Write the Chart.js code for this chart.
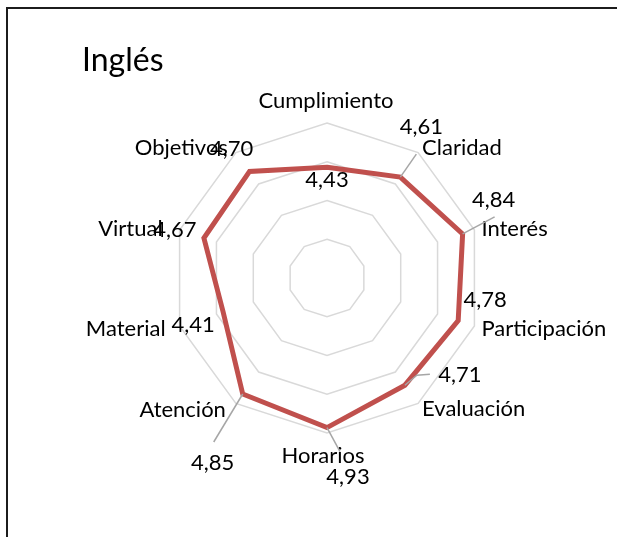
<!DOCTYPE html>
<html>
<head>
<meta charset="utf-8">
<title>Inglés</title>
<script src="https://cdn.jsdelivr.net/npm/chart.js@4.4.1/dist/chart.umd.min.js"></script>
<style>
  html, body { margin: 0; padding: 0; background: #fff; }
  #wrap { position: relative; width: 617px; height: 537px; overflow: hidden; }
  #frame {
    position: absolute; left: 6px; top: 7px; right: -10px; bottom: -10px;
    border-top: 2px solid #1c1c1c; border-left: 2px solid #1c1c1c;
  }
  canvas { position: absolute; left: 0; top: 0; }
</style>
</head>
<body>
<div id="wrap">
  <div id="frame"></div>
  <canvas id="radar" width="617" height="537"></canvas>
</div>
<script>
const chartTitle = "Inglés";
const categories = ["Cumplimiento", "Claridad", "Interés", "Participación", "Evaluación",
                    "Horarios", "Atención", "Material", "Virtual", "Objetivos"];
const scores = [4.43, 4.61, 4.84, 4.78, 4.71, 4.93, 4.85, 4.41, 4.67, 4.70];
const scaleMin = 3;
const scaleMax = 5;
const scaleStep = 0.5;

// where each category name sits, relative to the outer ring vertex
const nameOffsets = [
    [-1, -22, "center"], [4, -5, "left"], [7, -1, "left"], [7, 3, "left"], [4, 6, "left"],
    [-4, 23, "center"], [-10, 7, "right"], [-14, 3, "right"], [-17, -1, "right"], [-8, -5, "right"]
];
// value label centres, relative to the data point
const valueOffsets = [
    [0, 13], [21, -50], [31, -34], [27, -21], [55, -10],
    [21, 49], [-30, 69], [-30, 13], [-29, -8], [-18, -23]
];
// leader lines from the data point out toward its label
const leaders = {
    1: [[16, -23]],
    2: [[32, -17]],
    4: [[12, -10], [25, -11]],
    5: [[13, 24]],
    6: [[-29, 48]]
};

const fmt = v => v.toFixed(2).replace(".", ",");
const FONT = "Lato, 'Open Sans', sans-serif";

const labelsPlugin = {
    id: "radarLabels",
    afterDatasetsDraw(chart) {
        const ctx = chart.ctx;
        const r = chart.scales.r;
        ctx.save();

        // title
        ctx.fillStyle = "#000";
        ctx.font = "32px " + FONT;
        ctx.textAlign = "left";
        ctx.textBaseline = "alphabetic";
        ctx.fillText(chartTitle, 82, 71);

        ctx.font = "22px " + FONT;
        ctx.textBaseline = "middle";

        // category names around the outer ring
        categories.forEach((name, i) => {
            const p = r.getPointPositionForValue(i, scaleMax);
            const [dx, dy, align] = nameOffsets[i];
            ctx.textAlign = align;
            ctx.fillText(name, p.x + dx, p.y + dy);
        });

        // leader lines
        ctx.strokeStyle = "#a6a6a6";
        ctx.lineWidth = 1.5;
        Object.keys(leaders).forEach(k => {
            const i = Number(k);
            const p = r.getPointPositionForValue(i, scores[i]);
            ctx.beginPath();
            ctx.moveTo(p.x, p.y);
            leaders[k].forEach(([dx, dy]) => ctx.lineTo(p.x + dx, p.y + dy));
            ctx.stroke();
        });

        // value labels
        ctx.textAlign = "center";
        scores.forEach((v, i) => {
            const p = r.getPointPositionForValue(i, v);
            const [dx, dy] = valueOffsets[i];
            ctx.fillText(fmt(v), p.x + dx, p.y + dy);
        });

        ctx.restore();
    }
};

new Chart(document.getElementById("radar"), {
    type: "radar",
    data: {
        labels: categories,
        datasets: [{
            label: chartTitle,
            data: scores,
            borderColor: "#C0504D",
            borderWidth: 5,
            fill: false,
            tension: 0,
            pointRadius: 0,
            pointHoverRadius: 0
        }]
    },
    options: {
        responsive: false,
        animation: false,
        devicePixelRatio: 1,
        layout: { padding: { left: 172, top: 123, right: 135, bottom: 104 } },
        plugins: {
            legend: { display: false },
            title: { display: false },
            tooltip: { enabled: false }
        },
        scales: {
            r: {
                min: scaleMin,
                max: scaleMax,
                ticks: { display: false, stepSize: scaleStep },
                angleLines: { display: false },
                grid: { color: "#d9d9d9", lineWidth: 1.5 },
                pointLabels: { display: false }
            }
        }
    },
    plugins: [labelsPlugin]
});
</script>
</body>
</html>
